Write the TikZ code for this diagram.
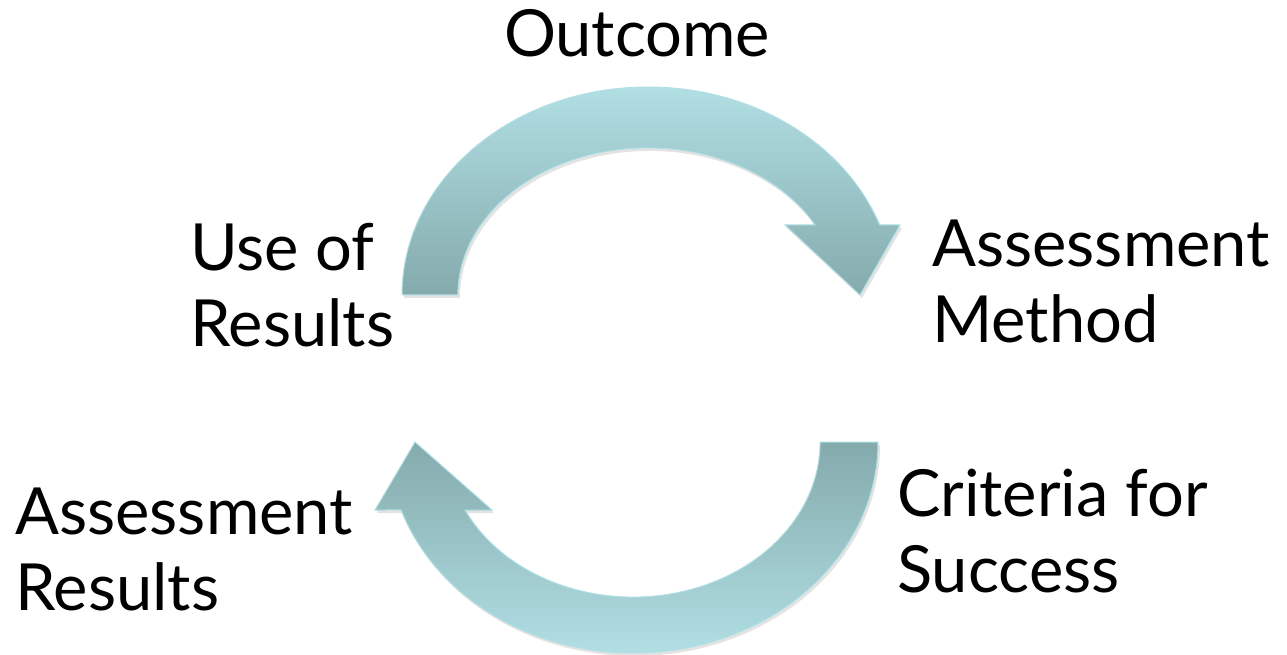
\documentclass[tikz,border=0pt]{standalone}
\usepackage{fontspec}
\setmainfont{Lato}
\usetikzlibrary{shadows}
\definecolor{arrowlight}{RGB}{177,223,228}
\definecolor{arrowdark}{RGB}{132,170,172}
\tikzset{
  label/.style={anchor=base west, align=left, inner sep=0pt,
    font=\fontsize{65}{76}\selectfont},
  bend arrow/.style={draw=arrowlight, line width=1pt, shading=axis,
    drop shadow={opacity=0.22, shadow xshift=2pt, shadow yshift=-3pt}},
}
\begin{document}
\begin{tikzpicture}[x=1pt,y=1pt]
  \useasboundingbox (0,0) rectangle (1287,654);
  %% upper arrow
  \path[bend arrow, top color=arrowlight, bottom color=arrowdark]
    (402,359) arc[start angle=180, end angle=19.7, x radius=246, y radius=208]
    -- (900,429) -- (860,359) -- (785,429) -- (815,429)
    arc[start angle=28.4, end angle=180, x radius=190, y radius=147] -- cycle;
  %% lower arrow
  \path[bend arrow, top color=arrowdark, bottom color=arrowlight]
    (878,212) arc[start angle=0, end angle=-161.2, x radius=245, y radius=211]
    -- (375,144) -- (415,212) -- (492,144) -- (465,144)
    arc[start angle=-154, end angle=0, x radius=187, y radius=155] -- cycle;
  %% labels (base = last line)
  \node[label, anchor=base] (outcome) at (637,597) {Outcome};
  \node[label] (use) at (190,307) {Use of\\Results};
  \node[label] (method) at (932,312) {Assessment\\Method};
  \node[label] (criteria) at (897,62) {Criteria for\\Success};
  \node[label] (results) at (15,44) {Assessment\\Results};
\end{tikzpicture}
\end{document}
